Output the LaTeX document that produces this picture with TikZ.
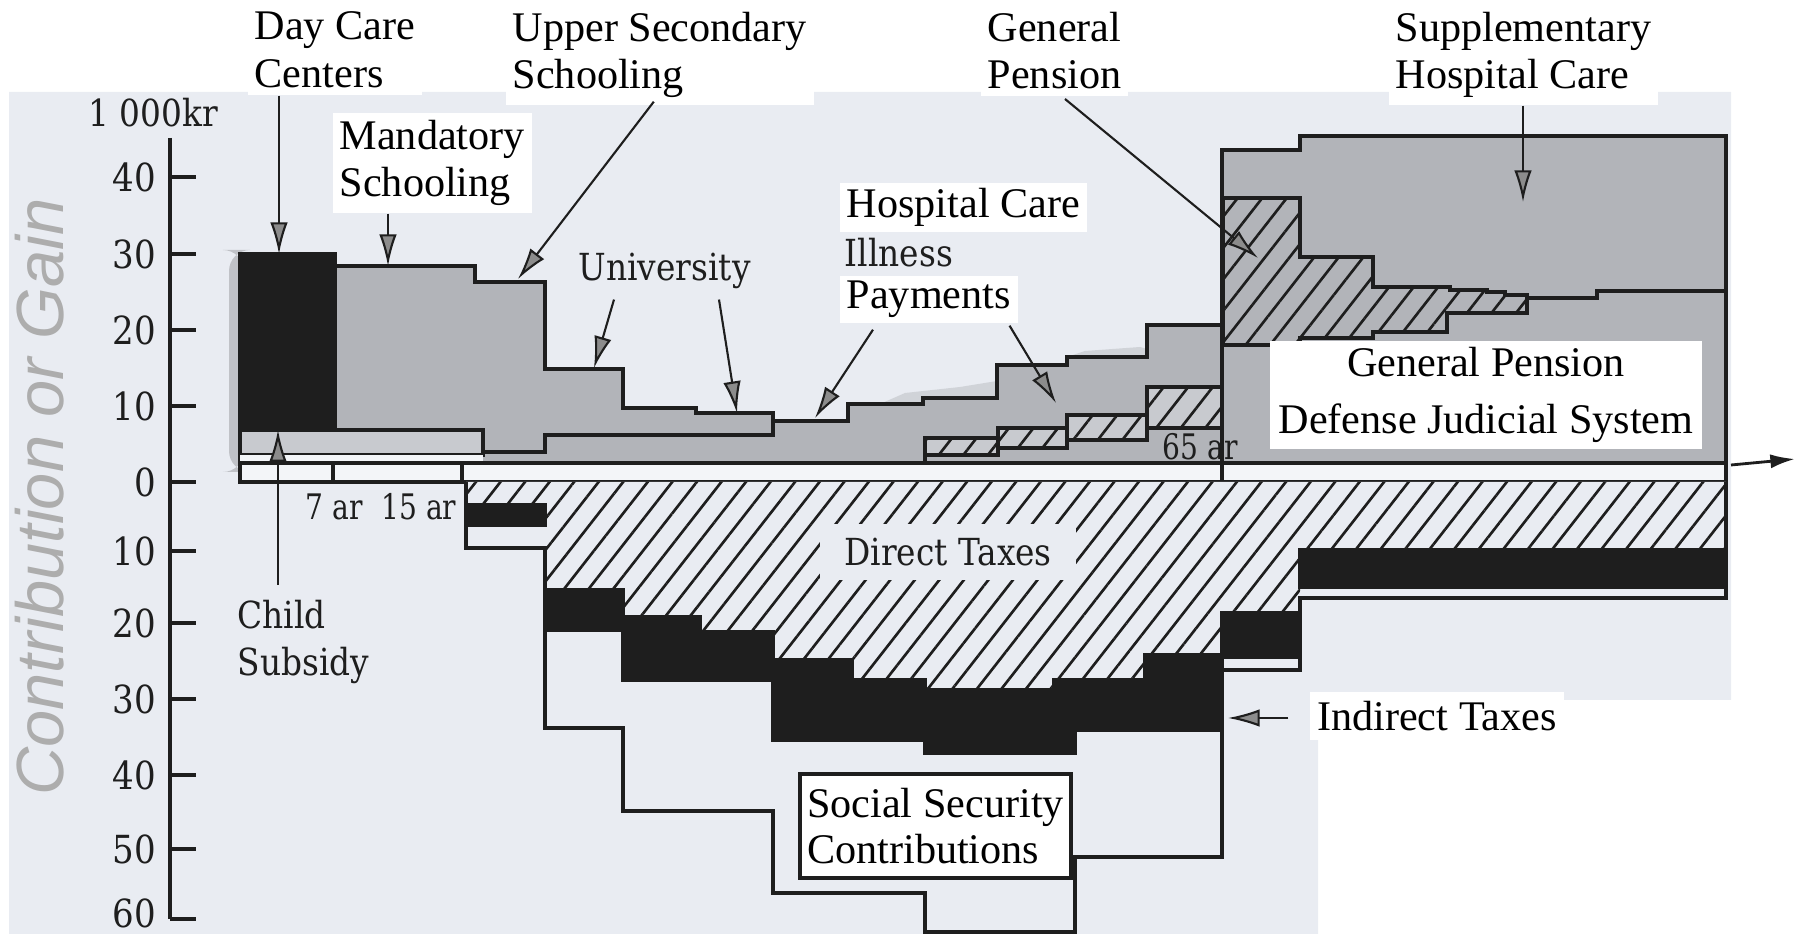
\documentclass[tikz,border=0pt]{standalone}
\usepackage{fontspec}
\setmainfont{Liberation Serif}
\newfontfamily\scanfont[FakeStretch=0.88]{DejaVu Serif}
\newfontfamily\narrowscan[FakeStretch=0.8]{DejaVu Serif}
\newfontfamily\handfont{Liberation Sans}
\usetikzlibrary{arrows.meta, patterns.meta, positioning}

\definecolor{paper}{RGB}{233,236,242}
\definecolor{shade}{RGB}{178,180,185}
\definecolor{lightshade}{RGB}{200,202,207}
\definecolor{ink}{RGB}{30,30,30}
\definecolor{strip}{RGB}{243,245,248}

\tikzset{
  outline/.style={draw=ink, line width=0.9pt},
  axisline/.style={draw=ink, line width=1.2pt},
  hatched/.style={fill=#1, postaction={pattern={Lines[angle=52, distance=5.5pt, line width=0.75pt]}, pattern color=ink}},
  label box/.style={fill=white, inner xsep=2pt, inner ysep=2pt, align=left, font=\fontsize{12}{13.6}\selectfont},
  scan label/.style={inner sep=0pt, text=ink, align=left, font=\scanfont\fontsize{10.6}{13.6}\selectfont},
  age label/.style={inner sep=0pt, text=ink, font=\narrowscan\fontsize{10}{10}\selectfont},
  ticklabel/.style={inner sep=0pt, text=ink, font=\scanfont\fontsize{11}{11}\selectfont},
  handwriting/.style={rotate=90, text=black!32, font=\handfont\itshape\fontsize{19}{19}\selectfont},
  pointer/.style={draw=ink, line width=0.6pt, -{Latex[length=9pt, width=5pt, fill=black!45]}},
  outarrow/.style={draw=ink, line width=0.8pt, -{Latex[length=7pt, width=4pt]}}
}

\begin{document}
\begin{tikzpicture}[x=0.01cm, y=-0.01cm]
\useasboundingbox (0,0) rectangle (1796,934);

% scanned page
\fill[paper] (9,92) -- (1731,92) -- (1731,700) -- (1318,700) -- (1318,934) -- (9,934) -- cycle;

% axis
\draw[axisline] (170,138) -- (170,919);
\foreach \val/\ypos/\ylab in {40/177/177, 30/254/254, 20/330/330, 10/406/406, 0/482/482, 10/551/551,
    20/623/623, 30/699/699, 40/775/775, 50/849/849, 60/919/913} {
  \draw[axisline] (170,\ypos) -- (196,\ypos);
  \node[ticklabel, anchor=east] (ylab-\ypos) at (157,\ylab) {\val};
}
\node[scan label, anchor=west] (unit) at (88,113) {1 000kr};
\node[handwriting] (axistitle) at (40,497) {Contribution or Gain};

% gains
\fill[shade!75!paper, rounded corners=6] (229,250) rectangle (244,472);
\fill[shade!45!paper] (880,404) -- (905,393) -- (960,387) -- (997,381) -- (997,398) -- (923,398) -- (923,404) -- cycle;
\fill[shade!45!paper] (1067,357) -- (1085,351) -- (1140,347) -- (1147,349) -- (1147,357) -- cycle;
\path[outline, fill=shade] (240,463) -- (240,254) -- (335,254) -- (335,266) -- (475,266) -- (475,282)
  -- (545,282) -- (545,369) -- (623,369) -- (623,408) -- (696,408) -- (696,413) -- (773,413)
  -- (773,421) -- (848,421) -- (848,404) -- (923,404) -- (923,398) -- (997,398) -- (997,365)
  -- (1067,365) -- (1067,357) -- (1147,357) -- (1147,325) -- (1222,325) -- (1222,150)
  -- (1300,150) -- (1300,136) -- (1726,136) -- (1726,463) -- cycle;
\path[outline, fill=lightshade] (240,430) -- (483,430) -- (483,455) -- (240,455) -- cycle;
\fill[strip] (240,455) rectangle (483,463);
\path[outline, fill=ink] (240,254) rectangle (335,427);
\draw[outline] (483,452) -- (545,452) -- (545,435) -- (773,435) -- (773,413);
\foreach \xa/\xb/\ya/\yb in {925/998/438/455, 998/1067/428/448, 1067/1147/415/440, 1147/1222/387/428}
  \path[outline, hatched=lightshade] (\xa,\ya) rectangle (\xb,\yb);
\draw[outline] (925,455) -- (925,463);
\path[outline, hatched=shade] (1223,198) -- (1300,198) -- (1300,257) -- (1373,257) -- (1373,287)
  -- (1450,287) -- (1450,290) -- (1487,290) -- (1487,292) -- (1505,292) -- (1505,295)
  -- (1527,295) -- (1527,313) -- (1447,313) -- (1447,332) -- (1373,332) -- (1373,338)
  -- (1300,338) -- (1300,345) -- (1223,345) -- cycle;
\draw[outline] (1527,298) -- (1597,298) -- (1597,291) -- (1726,291);
\draw[outline] (1222,325) -- (1222,463);

% age strip
\path[outline, fill=strip] (240,463) rectangle (1726,482);
\foreach \xs in {333,462,1222}
  \draw[outline] (\xs,463) -- (\xs,482);

% contributions
\path[hatched=paper] (466,482) -- (1726,482) -- (1726,550) -- (1300,550) -- (1300,613) -- (1222,613)
  -- (1222,655) -- (1145,655) -- (1145,680) -- (1054,680) -- (1054,690) -- (925,690) -- (925,680)
  -- (852,680) -- (852,660) -- (773,660) -- (773,632) -- (700,632) -- (700,617) -- (623,617)
  -- (623,590) -- (545,590) -- (545,505) -- (466,505) -- cycle;
\foreach \xa/\xb/\ya/\yb in {466/545/505/525, 545/623/590/630, 623/700/617/680, 700/773/632/680,
    773/852/660/740, 852/925/680/740, 925/1054/690/753, 1054/1075/680/753, 1075/1145/680/730,
    1145/1222/655/730, 1222/1300/613/657, 1300/1726/550/587}
  \path[outline, fill=ink] (\xa,\ya) rectangle (\xb,\yb);
\draw[outline] (466,482) -- (466,548) -- (545,548) -- (545,728) -- (623,728) -- (623,811)
  -- (773,811) -- (773,893) -- (925,893) -- (925,932) -- (1075,932) -- (1075,857) -- (1222,857)
  -- (1222,670) -- (1300,670) -- (1300,598) -- (1726,598) -- (1726,482);

% labels
\node[label box, anchor=north west] (daycare) at (247,4) {Day Care\\Centers};
\node[label box, anchor=north west] (upsec) at (505,4) {Upper Secondary\\Schooling};
\node[label box, anchor=north west] (genpen) at (980,4) {General\\Pension};
\node[label box, anchor=north west] (supp) at (1388,4) {Supplementary\\Hospital Care};
\node[label box, anchor=north west] (mandatory) at (332,112) {Mandatory\\Schooling};
\node[label box, anchor=north west, inner ysep=1.5pt] (hospital) at (839,182) {Hospital Care};
\node[scan label, anchor=west] (illness) at (844,253) {Illness};
\node[label box, anchor=north west, inner ysep=1.5pt] (payments) at (839,275) {Payments};
\node[scan label, anchor=west] (university) at (578,271) {University};
\node[scan label, anchor=north west] (child) at (237,599) {Child\\Subsidy};
\node[age label, anchor=west] (age7) at (305,507) {7 ar};
\node[age label, anchor=east] (age15) at (457,507) {15 ar};
\node[age label, anchor=west] (age65) at (1162,447) {65 ar};
\node[scan label, fill=paper, inner xsep=7pt, inner ysep=4pt] (direct) at (948,552) {Direct Taxes};
\node[label box, align=center, minimum width=4.31cm, minimum height=1.05cm,
  font=\fontsize{12}{16}\selectfont] (pensionbox) at (1486,395) {General Pension\\Defense Judicial System};
\node[label box, minimum width=2.41cm, minimum height=0.47cm] (indirect) at (1437,716) {Indirect Taxes};
\node[label box, draw=ink, line width=1.2pt, anchor=north west, minimum width=2.69cm,
  minimum height=1.04cm, font=\fontsize{12}{13}\selectfont] (social) at (798,772) {Social Security\\Contributions};

% pointers
\coordinate (daycareTip) at (279,254);
\coordinate (mandatoryTip) at (388,266);
\coordinate (upsecTip) at (518,279);
\coordinate (uniTipA) at (594,368);
\coordinate (uniTipB) at (737,413);
\coordinate (hospTipA) at (815,418);
\coordinate (hospTipB) at (1056,403);
\coordinate (genpenTip) at (1258,258);
\coordinate (suppTip) at (1523,202);
\coordinate (childTip) at (278,430);
\coordinate (indirectTip) at (1228,718);
\coordinate (stripEnd) at (1731,465);
\coordinate (pageEdge) at (1795,459);

\draw[pointer] (daycare.south -| daycareTip) -- (daycareTip);
\draw[pointer] (mandatory.south -| mandatoryTip) -- (mandatoryTip);
\draw[pointer] ([shift={(-6,-4)}]upsec.south) -- (upsecTip);
\draw[pointer] ([shift={(36,10)}]university.south west) -- (uniTipA);
\draw[pointer] ([shift={(141,10)}]university.south west) -- (uniTipB);
\draw[pointer] ([shift={(34,6)}]payments.south west) -- (hospTipA);
\draw[pointer] ([shift={(-9,2)}]payments.south east) -- (hospTipB);
\draw[pointer] ([shift={(85,2)}]genpen.south west) -- (genpenTip);
\draw[pointer] (supp.south -| suppTip) -- (suppTip);
\draw[pointer] ([shift={(41,-14)}]child.north west) -- (childTip);
\draw[pointer] ([shift={(-21,2)}]indirect.west) -- (indirectTip);
\draw[outarrow] (stripEnd) -- (pageEdge);
\end{tikzpicture}
\end{document}
